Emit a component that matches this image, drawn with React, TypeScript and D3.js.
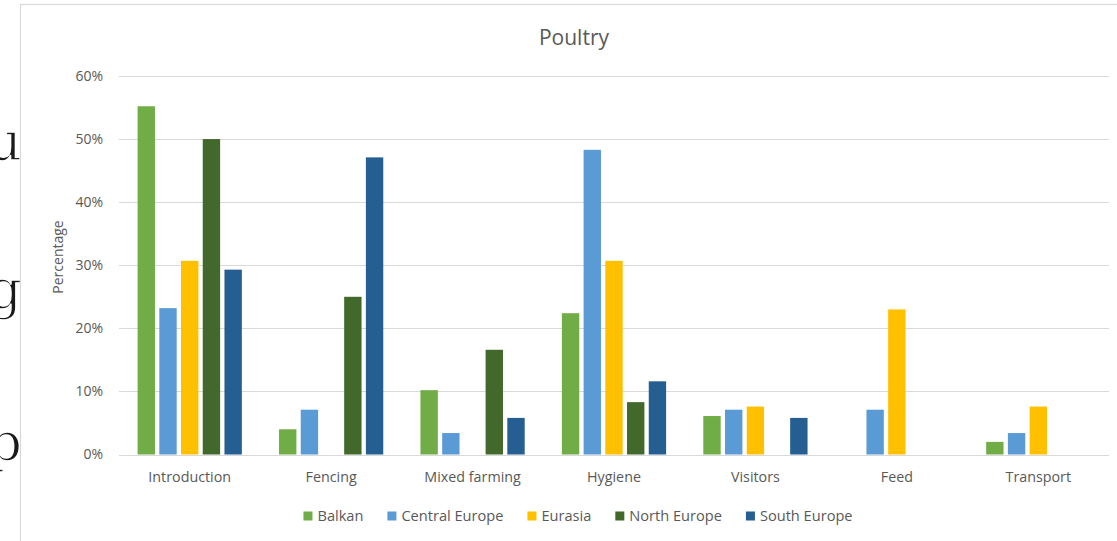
import React, { useEffect, useRef } from "react";
import * as d3 from "d3";

const categories = ["Introduction", "Fencing", "Mixed farming", "Hygiene", "Visitors", "Feed", "Transport"];
const seriesNames = ["Balkan", "Central Europe", "Eurasia", "North Europe", "South Europe"];
const balkan = [55.2, 4.0, 10.2, 22.4, 6.1, 0, 2.0];
const centralEurope = [23.2, 7.1, 3.4, 48.3, 7.1, 7.1, 3.4];
const eurasia = [30.7, 0, 0, 30.7, 7.6, 23.0, 7.6];
const northEurope = [50.0, 25.0, 16.6, 8.3, 0, 0, 0];
const southEurope = [29.3, 47.1, 5.8, 11.6, 5.8, 0, 0];
const seriesColors = ["#70AD47", "#5B9BD5", "#FFC000", "#43682B", "#255E91"];
const yTicks = [0, 10, 20, 30, 40, 50, 60];
const title = "Poultry";
const yTitle = "Percentage";
const bgLetters = ["u", "g", "p"];

const W = 1117;
const H = 541;
const FONT = "'Open Sans', sans-serif";
const TEXT = "#595959";

export default function App() {
  const ref = useRef<SVGSVGElement>(null);

  useEffect(() => {
    const svg = d3.select(ref.current);
    svg.selectAll("*").remove();

    const values = [balkan, centralEurope, eurasia, northEurope, southEurope];

    // background document letters (partly hidden behind the chart)
    const letterBaselines = [160, 308, 461];
    svg
      .append("g")
      .selectAll("text")
      .data(bgLetters)
      .join("text")
      .attr("x", 22)
      .attr("y", (_d, i) => letterBaselines[i])
      .attr("text-anchor", "end")
      .attr("font-family", "'DejaVu Serif', serif")
      .attr("font-size", 54)
      .attr("fill", "#1a1a1a")
      .attr("stroke", "#fff")
      .attr("stroke-width", 1.4)
      .text((d) => d);

    // chart frame
    svg
      .append("rect")
      .attr("x", 20.5)
      .attr("y", 4.5)
      .attr("width", 1200)
      .attr("height", 600)
      .attr("fill", "#fff")
      .attr("stroke", "#d9d9d9")
      .attr("stroke-width", 1.2);

    const left = 119;
    const right = 1109;
    const y = d3.scaleLinear().domain([0, 60]).range([454.5, 76]);
    const x0 = d3
      .scaleBand<string>()
      .domain(categories)
      .range([left, right])
      .paddingInner(0.263)
      .paddingOuter(0.1315);
    const x1 = d3
      .scaleBand<string>()
      .domain(seriesNames)
      .range([0, x0.bandwidth()])
      .paddingInner(0.2);

    // gridlines
    svg
      .append("g")
      .selectAll("line")
      .data(yTicks)
      .join("line")
      .attr("x1", left)
      .attr("x2", right)
      .attr("y1", (d) => Math.round(y(d)) + 0.5)
      .attr("y2", (d) => Math.round(y(d)) + 0.5)
      .attr("stroke", "#d9d9d9")
      .attr("stroke-width", 1.2);

    // y tick labels
    svg
      .append("g")
      .selectAll("text")
      .data(yTicks)
      .join("text")
      .attr("x", 103)
      .attr("y", (d) => y(d))
      .attr("dy", "0.35em")
      .attr("text-anchor", "end")
      .attr("font-family", FONT)
      .attr("font-size", 14)
      .attr("fill", TEXT)
      .text((d) => `${d}%`);

    // bars
    const groups = svg
      .append("g")
      .selectAll("g")
      .data(categories)
      .join("g")
      .attr("transform", (d) => `translate(${x0(d)},0)`);
    groups
      .selectAll("rect")
      .data((_c, ci) => seriesNames.map((s, si) => ({ s, si, v: values[si][ci] })).filter((d) => d.v > 0))
      .join("rect")
      .attr("x", (d) => x1(d.s)!)
      .attr("width", x1.bandwidth())
      .attr("y", (d) => y(d.v))
      .attr("height", (d) => y(0) - y(d.v))
      .attr("fill", (d) => seriesColors[d.si]);

    // category labels
    svg
      .append("g")
      .selectAll("text")
      .data(categories)
      .join("text")
      .attr("x", (d) => x0(d)! + x0.bandwidth() / 2)
      .attr("y", 482)
      .attr("text-anchor", "middle")
      .attr("font-family", FONT)
      .attr("font-size", 14.3)
      .attr("fill", TEXT)
      .text((d) => d);

    // title
    svg
      .append("text")
      .attr("x", 574)
      .attr("y", 45)
      .attr("text-anchor", "middle")
      .attr("font-family", FONT)
      .attr("font-size", 21)
      .attr("fill", TEXT)
      .text(title);

    // y axis title
    svg
      .append("text")
      .attr("transform", "translate(63,257) rotate(-90)")
      .attr("text-anchor", "middle")
      .attr("font-family", FONT)
      .attr("font-size", 14)
      .attr("fill", TEXT)
      .text(yTitle);

    // legend
    const lg = svg.append("g");
    const items = lg.selectAll("g").data(seriesNames).join("g");
    items
      .append("rect")
      .attr("width", 9)
      .attr("height", 9)
      .attr("y", -9.5)
      .attr("fill", (_d, i) => seriesColors[i]);
    items
      .append("text")
      .attr("x", 14)
      .attr("y", 0)
      .attr("font-family", FONT)
      .attr("font-size", 14.6)
      .attr("fill", TEXT)
      .text((d) => d);
    const widths: number[] = [];
    items.each(function () {
      const t = d3.select(this).select("text").node() as SVGTextElement;
      widths.push(14 + t.getComputedTextLength());
    });
    const gap = 24;
    const total = d3.sum(widths) + gap * (widths.length - 1);
    let cx = 578 - total / 2;
    items.attr("transform", (_d, i) => {
      const tx = cx;
      cx += widths[i] + gap;
      return `translate(${tx},521)`;
    });
  }, []);

  return (
    <svg
      ref={ref}
      width={W}
      height={H}
      style={{ position: "absolute", left: 0, top: 0, background: "#fff" }}
    />
  );
}
